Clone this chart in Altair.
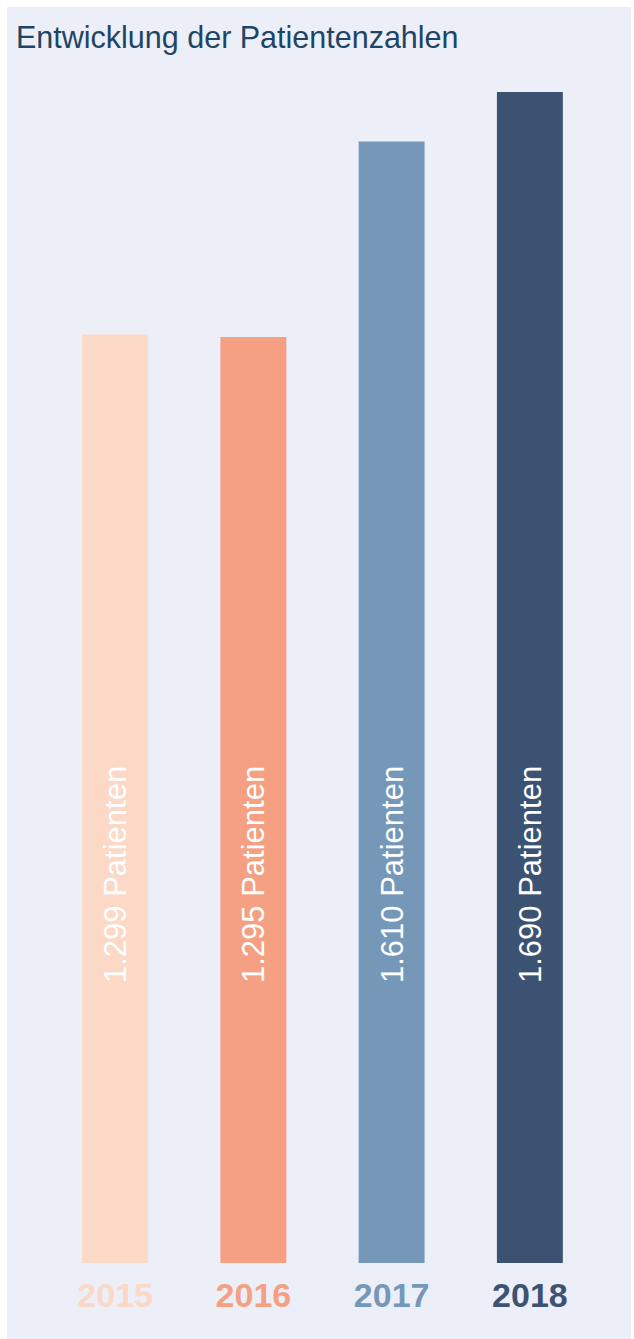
import altair as alt
import pandas as pd

# ---- data ----
years = ["2015", "2016", "2017", "2018"]
patients = [1299, 1295, 1610, 1690]
bar_labels = ["1.299 Patienten", "1.295 Patienten", "1.610 Patienten", "1.690 Patienten"]
bar_colors = ["#FCD8C7", "#F5A083", "#7598B9", "#3C5272"]
title_text = ["Entwicklung der Patientenzahlen"]

df = pd.DataFrame({"year": years, "patients": patients, "label": bar_labels})
title_df = pd.DataFrame({"t": title_text})

FONT = "Liberation Sans"
Y_MIN = -198

x_enc = alt.X(
    "year:N",
    axis=None,
    sort=years,
    scale=alt.Scale(domain=years, range=[39, 592], paddingInner=0.523, paddingOuter=0.2615),
)
color_enc = alt.Color("year:N", scale=alt.Scale(domain=years, range=bar_colors), legend=None)

bars = alt.Chart(df).mark_bar().encode(
    x=x_enc,
    y=alt.Y("patients:Q", axis=None,
            scale=alt.Scale(domain=[Y_MIN, 1690], range=[1256, 85], zero=False, nice=False)),
    y2=alt.datum(Y_MIN),
    color=color_enc,
)

labels = alt.Chart(df).mark_text(
    angle=270, align="left", baseline="middle", color="white",
    fontSize=31, font=FONT, dy=2,
).encode(
    x=x_enc,
    y=alt.value(976),
    text="label:N",
)

year_labels = alt.Chart(df).mark_text(
    align="center", baseline="alphabetic", fontSize=34, fontWeight="bold", font=FONT,
).encode(
    x=x_enc,
    y=alt.value(1300),
    text="year:N",
    color=color_enc,
)

title = alt.Chart(title_df).mark_text(
    align="left", baseline="alphabetic", fontSize=30.5, font=FONT, color="#1E4466",
).encode(
    x=alt.value(9),
    y=alt.value(41),
    text="t:N",
)

chart = alt.layer(bars, labels, year_labels, title).properties(
    width=624,
    height=1332,
    padding={"left": 7, "top": 7, "right": 3, "bottom": 0},
    autosize=alt.AutoSizeParams(type="none"),
    background="white",
).configure_view(fill="#ECEFF7", strokeWidth=0)

chart.save("out.html", embed_options={"renderer": "svg", "actions": False})
